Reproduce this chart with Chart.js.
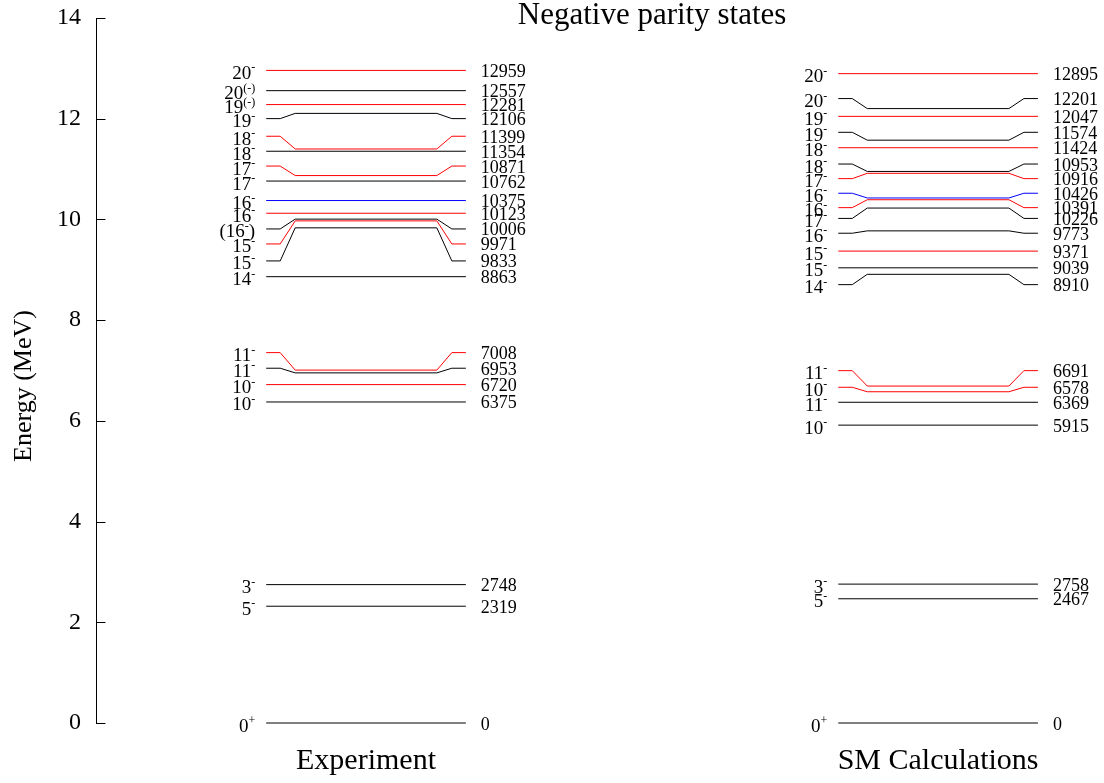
<!DOCTYPE html>
<html>
<head>
<meta charset="utf-8">
<title>Negative parity states</title>
<script src="https://cdn.jsdelivr.net/npm/chart.js@4.4.1/dist/chart.umd.min.js"></script>
<style>
  html, body { margin: 0; padding: 0; background: #fff; }
  #wrap { width: 1104px; height: 783px; }
</style>
</head>
<body>
<div id="wrap"><canvas id="levels"></canvas></div>
<script>
// level energies in keV, spins ("base^{sup}tail"), where the label sits (MeV, null = on the level), colour code
const columnNames = ['Experiment', 'SM Calculations'];

const expEnergy = [0, 2319, 2748, 6375, 6720, 6953, 7008, 8863, 9833, 9971, 10006,
                   10123, 10375, 10762, 10871, 11354, 11399, 12106, 12281, 12557, 12959];
const expSpin = ['0^{+}', '5^{-}', '3^{-}', '10^{-}', '10^{-}', '11^{-}', '11^{-}', '14^{-}', '15^{-}', '15^{-}', '(16^{-})',
                 '16^{-}', '16^{-}', '17^{-}', '17^{-}', '18^{-}', '18^{-}', '19^{-}', '19^{(-)}', '20^{(-)}', '20^{-}'];
const expLabelAt = [null, null, null, null, null, 7.045, 7.355, null, 9.176, 9.513, 9.811,
                    null, null, null, 11.06, null, 11.652, 12.002, null, null, null];
const expColor = ['k', 'k', 'k', 'k', 'r', 'k', 'r', 'k', 'k', 'r', 'k',
                  'r', 'b', 'k', 'r', 'k', 'r', 'k', 'r', 'k', 'r'];

const smEnergy = [0, 2467, 2758, 5915, 6369, 6578, 6691, 8910, 9039, 9371, 9773,
                  10226, 10391, 10426, 10916, 10953, 11424, 11574, 12047, 12201, 12895];
const smSpin = ['0^{+}', '5^{-}', '3^{-}', '10^{-}', '11^{-}', '10^{-}', '11^{-}', '14^{-}', '15^{-}', '15^{-}', '16^{-}',
                '17^{-}', '16^{-}', '16^{-}', '17^{-}', '18^{-}', '18^{-}', '19^{-}', '19^{-}', '20^{-}', '20^{-}'];
const smLabelAt = [null, null, null, null, null, 6.667, 6.997, 8.705, null, null, 9.726,
                   10.02, 10.234, 10.52, 10.81, 11.10, null, 11.73, null, 12.40, null];
const smColor = ['k', 'k', 'k', 'k', 'k', 'r', 'r', 'k', 'k', 'r', 'k',
                 'k', 'r', 'b', 'r', 'k', 'r', 'k', 'r', 'k', 'r'];

const yTicks = [0, 2, 4, 6, 8, 10, 12, 14];

const palette = { k: '#000000', r: '#ff0000', b: '#0000ff' };
const SERIF = '"Liberation Serif", "Times New Roman", serif';

// level drawing geometry, in column units
const HALF = 0.1745;   // half length of a level
const STUB = 0.0245;   // flat end piece at the label height
const KNEE = 0.0507;   // where the level reaches its real energy

const columns = [
  { energy: expEnergy, spin: expSpin, labelAt: expLabelAt, color: expColor },
  { energy: smEnergy, spin: smSpin, labelAt: smLabelAt, color: smColor }
];

function levelPoints(c, e, at) {
  const y = e / 1000;
  if (at == null) return [{ x: c - HALF, y: y }, { x: c + HALF, y: y }];
  return [
    { x: c - HALF, y: at }, { x: c - HALF + STUB, y: at }, { x: c - HALF + KNEE, y: y },
    { x: c + HALF - KNEE, y: y }, { x: c + HALF - STUB, y: at }, { x: c + HALF, y: at }
  ];
}

const datasets = [];
columns.forEach((col, c) => {
  col.energy.forEach((e, i) => {
    datasets.push({
      data: levelPoints(c, e, col.labelAt[i]),
      borderColor: palette[col.color[i]],
      borderWidth: 1,
      pointRadius: 0,
      tension: 0,
      fill: false,
      clip: false
    });
  });
});

function parseSpin(s) {
  const m = s.match(/^(.*)\^\{(.*)\}(.*)$/);
  return m ? [m[1], m[2], m[3]] : [s, '', ''];
}

const labelPlugin = {
  id: 'levelLabels',
  afterDatasetsDraw(chart) {
    const { ctx } = chart;
    const x = chart.scales.x, y = chart.scales.y;
    ctx.save();
    ctx.fillStyle = '#000';

    columns.forEach((col, c) => {
      const left = x.getPixelForValue(c - HALF);
      const right = x.getPixelForValue(c + HALF);
      col.energy.forEach((e, i) => {
        const at = col.labelAt[i] == null ? e / 1000 : col.labelAt[i];
        const py = y.getPixelForValue(at);

        // energy on the right
        ctx.font = '18px ' + SERIF;
        ctx.textAlign = 'left';
        ctx.textBaseline = 'alphabetic';
        ctx.fillText(String(e), right + 15, py + 6.5);

        // spin on the left, with a raised parity sign
        const [base, sup, tail] = parseSpin(col.spin[i]);
        ctx.font = '19px ' + SERIF;
        const wb = ctx.measureText(base).width;
        const wt = ctx.measureText(tail).width;
        ctx.font = '12px ' + SERIF;
        const ws = ctx.measureText(sup).width;
        let px = left - 11 - (wb + ws + wt);
        ctx.font = '19px ' + SERIF;
        ctx.fillText(base, px, py + 8.5);
        ctx.font = '12px ' + SERIF;
        ctx.fillText(sup, px + wb, py + 1);
        ctx.font = '19px ' + SERIF;
        ctx.fillText(tail, px + wb + ws, py + 8.5);
      });
    });

    // ticks pointing into the plot
    ctx.strokeStyle = '#000';
    ctx.lineWidth = 1;
    const ax = Math.round(chart.chartArea.left) + 0.5;
    yTicks.forEach(v => {
      const py = Math.round(y.getPixelForValue(v)) + 0.5;
      ctx.beginPath();
      ctx.moveTo(ax, py);
      ctx.lineTo(ax + 9, py);
      ctx.stroke();
    });

    // title, centred between the two columns
    ctx.font = '31px ' + SERIF;
    ctx.textAlign = 'center';
    ctx.textBaseline = 'alphabetic';
    ctx.fillText('Negative parity states', x.getPixelForValue(0.5), 24);

    // axis title
    ctx.save();
    ctx.translate(31, 386);
    ctx.rotate(-Math.PI / 2);
    ctx.font = '26px ' + SERIF;
    ctx.textAlign = 'center';
    ctx.fillText('Energy (MeV)', 0, 0);
    ctx.restore();

    ctx.restore();
  }
};

new Chart(document.getElementById('levels'), {
  type: 'line',
  data: { datasets: datasets },
  plugins: [labelPlugin],
  options: {
    responsive: true,
    maintainAspectRatio: false,
    animation: false,
    devicePixelRatio: 1,
    layout: { padding: { top: 18, right: 0, bottom: 0, left: 0 } },
    plugins: {
      legend: { display: false },
      tooltip: { enabled: false }
    },
    events: [],
    scales: {
      x: {
        type: 'linear',
        min: -0.472,
        max: 1.29,
        grid: { display: false, drawTicks: false },
        border: { display: false },
        afterBuildTicks: axis => { axis.ticks = columnNames.map((n, i) => ({ value: i })); },
        afterFit: axis => { axis.height = 60; axis.paddingLeft = 0; axis.paddingRight = 0; },
        ticks: {
          autoSkip: false,
          maxRotation: 0,
          padding: 20,
          color: '#000',
          font: { family: SERIF, size: 30 },
          callback: v => columnNames[v]
        }
      },
      y: {
        min: 0,
        max: 14,
        afterBuildTicks: axis => { axis.ticks = yTicks.map(v => ({ value: v })); },
        afterFit: axis => { axis.width = 96; axis.paddingTop = 0; axis.paddingBottom = 0; },
        grid: { display: false, drawTicks: false },
        border: { display: true, color: '#000', width: 1 },
        ticks: {
          padding: 15,
          color: '#000',
          font: { family: SERIF, size: 24 }
        }
      }
    }
  }
});
</script>
</body>
</html>
